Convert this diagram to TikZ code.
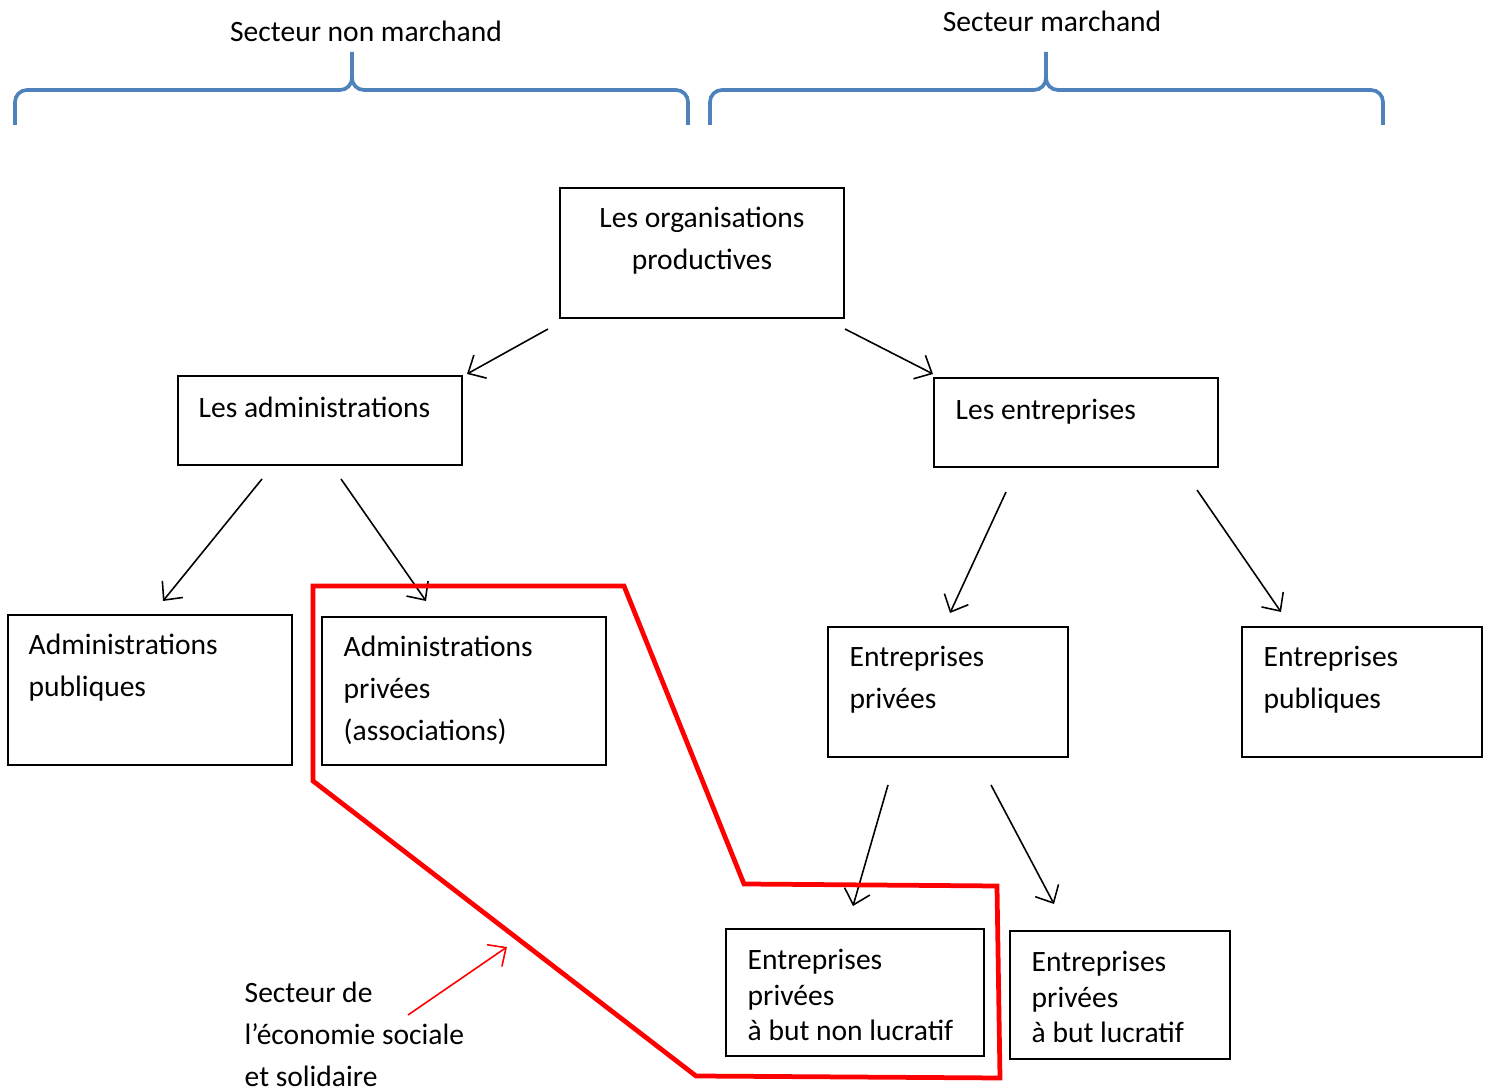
\documentclass[tikz,border=0pt]{standalone}
\usepackage{fontspec}
\setmainfont{Carlito}
\usetikzlibrary{arrows.meta}
\definecolor{bracebl}{RGB}{79,129,189}
\tikzset{
  bx/.style={rectangle,draw=black,line width=.55pt,inner sep=0pt},
  tx/.style={font=\fontsize{8.4}{11.95}\selectfont,inner sep=0pt,align=left},
  txs/.style={font=\fontsize{8.4}{10.2}\selectfont,inner sep=0pt,align=left},
  arr/.style={-{Straight Barb[length=4pt,width=7.5pt]},line width=.45pt,draw=black},
  brc/.style={draw=bracebl,line width=1.05pt},
  % outline of the social economy sector, drawn over the boxes
  ess/.style={draw=red,line width=1.35pt,line join=miter},
}

\begin{document}
\begin{tikzpicture}[x=0.01cm,y=-0.01cm]
\useasboundingbox (0,0) rectangle (1493,1092);

% the two sectors, with their braces
\draw[brc] (15,125) -- (15,102) to[out=90,in=180] (27,90) -- (340,90)
  to[out=0,in=-90] (352,78) -- (352,52);
\draw[brc] (352,78) to[out=-90,in=180] (364,90) -- (676,90)
  to[out=0,in=90] (688,102) -- (688,125);
\draw[brc] (710,125) -- (710,102) to[out=90,in=180] (722,90) -- (1034,90)
  to[out=0,in=-90] (1046,78) -- (1046,52);
\draw[brc] (1046,78) to[out=-90,in=180] (1058,90) -- (1371,90)
  to[out=0,in=90] (1383,102) -- (1383,125);
\node[tx,anchor=base] (snm) at (366,42) {Secteur non marchand};
\node[tx,anchor=base] (sm) at (1052,32) {Secteur marchand};

% boxes
\node[bx,minimum width=2.84cm,minimum height=1.30cm] (org) at (702,253) {};
\node[bx,minimum width=2.84cm,minimum height=0.89cm] (adm) at (320,420.5) {};
\node[bx,minimum width=2.84cm,minimum height=0.89cm] (ent) at (1076,422.5) {};
\node[bx,minimum width=2.84cm,minimum height=1.50cm] (admpub) at (150,690) {};
\node[bx,minimum width=2.84cm,minimum height=1.48cm] (admpriv) at (464,691) {};
\node[bx,minimum width=2.40cm,minimum height=1.30cm] (entpriv) at (948,692) {};
\node[bx,minimum width=2.40cm,minimum height=1.30cm] (entpub) at (1362,692) {};
\node[bx,minimum width=2.58cm,minimum height=1.27cm] (nonluc) at (855,992.5) {};
\node[bx,minimum width=2.20cm,minimum height=1.28cm] (luc) at (1120,995) {};

% box texts (base = baseline of the last line)
\node[tx,align=center,anchor=base] (orgt) at (702,270) {Les organisations\\productives};
\node[tx,anchor=base west] (admt) at (198,418) {Les administrations};
\node[tx,anchor=base west] (entt) at (955,420) {Les entreprises};
\node[tx,anchor=base west] (admpubt) at (28,697) {Administrations\\publiques};
\node[tx,anchor=base west] (admprivt) at (343,741) {Administrations\\privées\\(associations)};
\node[tx,anchor=base west] (entprivt) at (849,709) {Entreprises\\privées};
\node[tx,anchor=base west] (entpubt) at (1263,709) {Entreprises\\publiques};
\node[txs,anchor=base west] (nonluct) at (747,1041) {Entreprises\\privées\\à but non lucratif};
\node[txs,anchor=base west] (luct) at (1031,1043) {Entreprises\\privées\\à but lucratif};

% arrow ends
\coordinate (o1) at (548,329); \coordinate (a0) at (467,374);
\coordinate (o2) at (845,329); \coordinate (e0) at (933,374);
\coordinate (a1) at (262,479); \coordinate (ap) at (163,601);
\coordinate (a2) at (341,479); \coordinate (av) at (426,601);
\coordinate (e1) at (1006,492); \coordinate (ev) at (950,613);
\coordinate (e2) at (1197,490); \coordinate (ep) at (1281,612);
\coordinate (v1) at (888,785); \coordinate (vn) at (853,906);
\coordinate (v2) at (991,785); \coordinate (vl) at (1054,904);
\draw[arr] (o1) -- (a0);
\draw[arr] (o2) -- (e0);
\draw[arr] (a1) -- (ap);
\draw[arr] (a2) -- (av);
\draw[arr] (e1) -- (ev);
\draw[arr] (e2) -- (ep);
\draw[arr] (v1) -- (vn);
\draw[arr] (v2) -- (vl);

% social and solidarity economy
\draw[ess] (313,586) -- (624,586) -- (744,884) -- (997,886) -- (1000,1078)
  -- (696,1076) -- (313,781) -- cycle;
\node[tx,anchor=base west] (esst) at (244,1087) {Secteur de\\l’économie sociale\\et solidaire};
\coordinate (r1) at (408,1015); \coordinate (r2) at (507,947);
\draw[arr,draw=red] (r1) -- (r2);
\end{tikzpicture}
\end{document}
